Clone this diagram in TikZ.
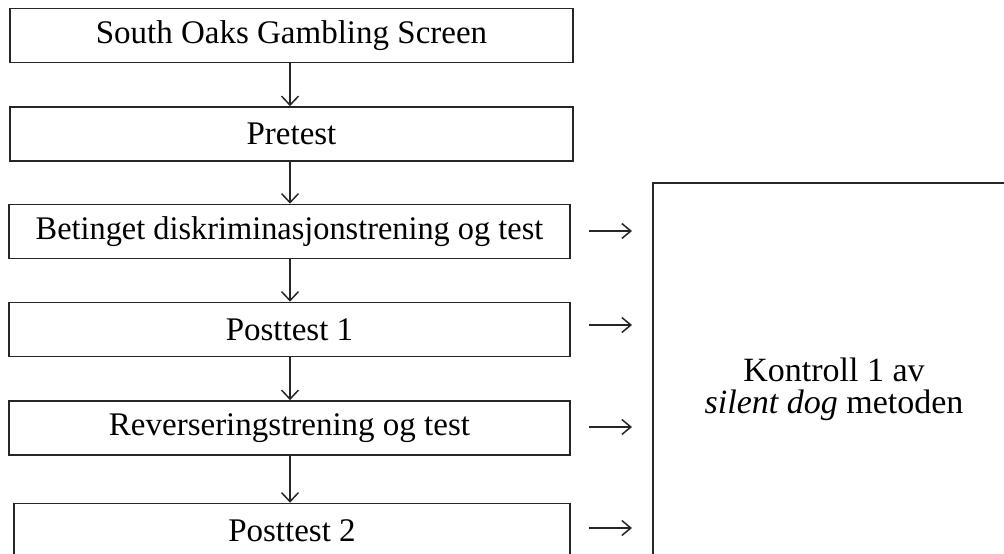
\documentclass[tikz,border=0pt]{standalone}
\usepackage{fontspec}
\setmainfont{Liberation Serif}
\usetikzlibrary{arrows.meta,calc}
\tikzset{
  stepbox/.style={draw=black!85, line width=1.7pt, fill=white, inner sep=0pt,
    minimum width=#1, minimum height=54pt, font=\fontsize{33}{38}\selectfont},
  stepbox/.default=561pt,
  flow/.style={draw=black!85, line width=1.5pt, -{Straight Barb[length=9pt,width=17pt,line width=1.5pt]}},
  side/.style={draw=black!85, line width=1.5pt, -{Straight Barb[length=9pt,width=15pt,line width=1.5pt]}}
}
\begin{document}
\begin{tikzpicture}[x=1pt,y=-1pt]
\useasboundingbox (0,0) rectangle (1004,554);
\clip (0,0) rectangle (1004,554);
\node[stepbox=563pt] (b1) at (291.5,35.5) {South Oaks Gambling Screen};
\node[stepbox=563pt] (b2) at (291.5,134) {Pretest};
\node[stepbox] (b3) at (289.5,231.5) {\scalebox{0.98}[1]{Betinget diskriminasjonstrening og test}};
\node[stepbox] (b4) at (289.5,329.5) {Posttest 1};
\node[stepbox] (b5) at (289.5,428) {Reverseringstrening og test};
\node[stepbox=556pt] (b6) at (292,530.5) {Posttest 2};
\node[draw=black!85, line width=1.7pt, inner sep=0pt, minimum width=362pt, minimum height=412pt,
  align=center, font=\fontsize{34}{32}\selectfont] (k) at (834,389)
  {Kontroll 1 av\\\textit{silent dog} metoden};
\coordinate (ax) at (290,0);
\draw[flow] (b1.south -| ax) -- (b2.north -| ax);
\draw[flow] (b2.south -| ax) -- (b3.north -| ax);
\draw[flow] (b3.south -| ax) -- (b4.north -| ax);
\draw[flow] (b4.south -| ax) -- (b5.north -| ax);
\draw[flow] (b5.south -| ax) -- (b6.north -| ax);
\foreach \b/\y in {b3/231, b4/325, b5/427, b6/528}{
  \coordinate (s\b) at (589,\y);
  \coordinate (e\b) at (632,\y);
  \draw[side] (s\b) -- (e\b);
}
\end{tikzpicture}
\end{document}
